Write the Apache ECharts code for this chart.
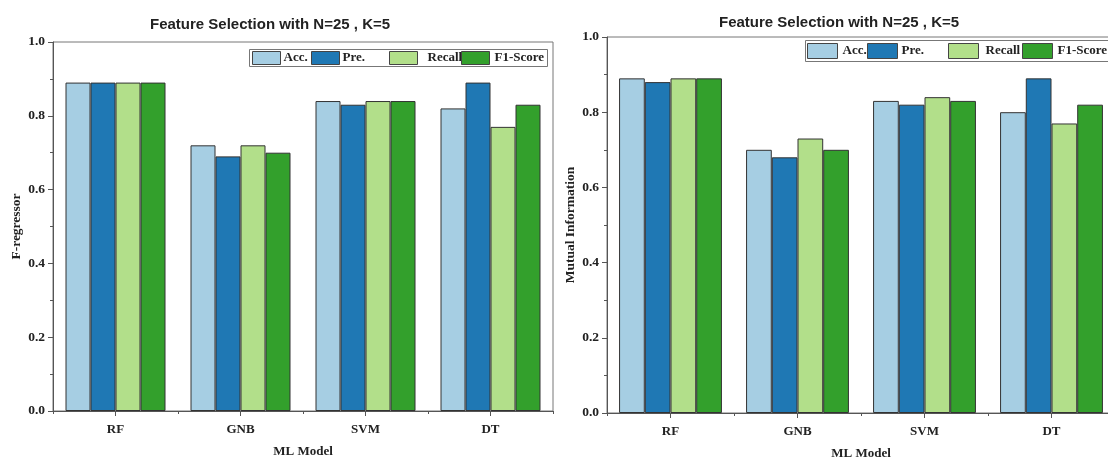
<!DOCTYPE html>
<html><head><meta charset="utf-8">
<script src="https://cdn.jsdelivr.net/npm/echarts@6/dist/echarts.min.js"></script>
<style>html,body{margin:0;padding:0;background:#fff}#c{width:1108px;height:457px}</style>
</head><body><div id="c"></div>
<script>
var categories = ['RF', 'GNB', 'SVM', 'DT'];
var seriesNames = ['Acc.', 'Pre.', 'Recall', 'F1-Score'];
var colors = ['#a6cee3', '#1f78b4', '#b2df8a', '#33a02c'];
// Left chart: F-regressor
var fAcc = [0.89, 0.72, 0.84, 0.82];
var fPre = [0.89, 0.69, 0.83, 0.89];
var fRecall = [0.89, 0.72, 0.84, 0.77];
var fF1 = [0.89, 0.70, 0.84, 0.83];
// Right chart: Mutual Information
var mAcc = [0.89, 0.70, 0.83, 0.80];
var mPre = [0.88, 0.68, 0.82, 0.89];
var mRecall = [0.89, 0.73, 0.84, 0.77];
var mF1 = [0.89, 0.70, 0.83, 0.82];

var chart = echarts.init(document.getElementById('c'));
var serif = 'Liberation Serif';
var axisColor = '#555';

function xAxes(g) {
  return [{
    gridIndex: g, type: 'category', data: categories, position: 'bottom',
    axisLine: {show: true, lineStyle: {color: axisColor, width: 1}},
    axisTick: {show: true, alignWithLabel: true, length: 5, lineStyle: {color: axisColor}},
    axisLabel: {fontFamily: serif, fontWeight: 'bold', fontSize: 13, color: '#222', margin: 12},
    name: 'ML Model', nameLocation: 'middle', nameGap: 34,
    nameTextStyle: {fontFamily: serif, fontWeight: 'bold', fontSize: 13, color: '#222'}
  }, {
    gridIndex: g, type: 'category', data: categories, position: 'bottom',
    axisLine: {show: false},
    axisTick: {show: true, length: 3, lineStyle: {color: axisColor}},
    axisLabel: {show: false}
  }];
}
function yAxis(g, name) {
  return {
    gridIndex: g, type: 'value', min: 0, max: 1, interval: 0.2,
    axisLine: {show: true, lineStyle: {color: axisColor, width: 1}},
    axisTick: {show: true, length: 5, lineStyle: {color: axisColor}},
    minorTick: {show: true, splitNumber: 2, length: 3, lineStyle: {color: axisColor}},
    splitLine: {show: false},
    axisLabel: {fontFamily: serif, fontWeight: 'bold', fontSize: 13.5, color: '#222', margin: 8,
      formatter: function (v) { return v.toFixed(1); }},
    name: name, nameLocation: 'middle', nameGap: 29,
    nameTextStyle: {fontFamily: serif, fontWeight: 'bold', fontSize: 13.5, color: '#222'}
  };
}
function bars(g, arrs, gap) {
  return arrs.map(function (d, i) {
    return {
      name: seriesNames[i], type: 'bar', xAxisIndex: g * 2, yAxisIndex: g, data: d,
      barGap: '0%', barCategoryGap: gap,
      itemStyle: {color: colors[i], borderColor: '#333', borderWidth: 1},
      emphasis: {disabled: true}
    };
  });
}
// one legend per item so every swatch sits where it does in the reference
function legendRow(lefts, top, iw, ih, textPads) {
  return seriesNames.map(function (n, i) {
    return {
      left: lefts[i], top: top, itemWidth: iw, itemHeight: ih, icon: 'rect', padding: 0, z: 10,
      data: [n], selectedMode: false,
      textStyle: {fontFamily: serif, fontWeight: 'bold', fontSize: 13, color: '#222',
        padding: [0, 0, 0, textPads[i]]},
      itemStyle: {borderColor: '#444', borderWidth: 1}
    };
  });
}
var xs = xAxes(0).concat(xAxes(1));
chart.setOption({
  animation: false,
  title: [
    {text: 'Feature Selection with N=25 , K=5', left: 145, top: 12,
      textStyle: {fontFamily: 'Liberation Sans', fontWeight: 'bold', fontSize: 15, color: '#222'}},
    {text: 'Feature Selection with N=25 , K=5', left: 714, top: 10,
      textStyle: {fontFamily: 'Liberation Sans', fontWeight: 'bold', fontSize: 15, color: '#222'}}
  ],
  graphic: [
    {type: 'rect', z: 5, shape: {x: 249.5, y: 49.5, width: 298, height: 17},
      style: {fill: '#fff', stroke: '#777', lineWidth: 1}},
    {type: 'rect', z: 5, shape: {x: 805.5, y: 40.5, width: 320, height: 21},
      style: {fill: '#fff', stroke: '#777', lineWidth: 1}}
  ],
  legend: legendRow([252, 311, 389, 461], 51, 28, 13, [-2, -2, 5, 0])
    .concat(legendRow([807, 867, 948, 1022], 43, 30, 15, [0, -1, 2, 0])),
  grid: [
    {left: 53, top: 42, width: 500, height: 369, show: true, borderColor: '#777', borderWidth: 1, outerBoundsMode: 'none', containLabel: false},
    {left: 607, top: 37, width: 508, height: 376, show: true, borderColor: '#777', borderWidth: 1, outerBoundsMode: 'none', containLabel: false}
  ],
  xAxis: xs,
  yAxis: [yAxis(0, 'F-regressor'), yAxis(1, 'Mutual Information')],
  series: bars(0, [fAcc, fPre, fRecall, fF1], '20%').concat(bars(1, [mAcc, mPre, mRecall, mF1], '19%'))
});
</script></body></html>
